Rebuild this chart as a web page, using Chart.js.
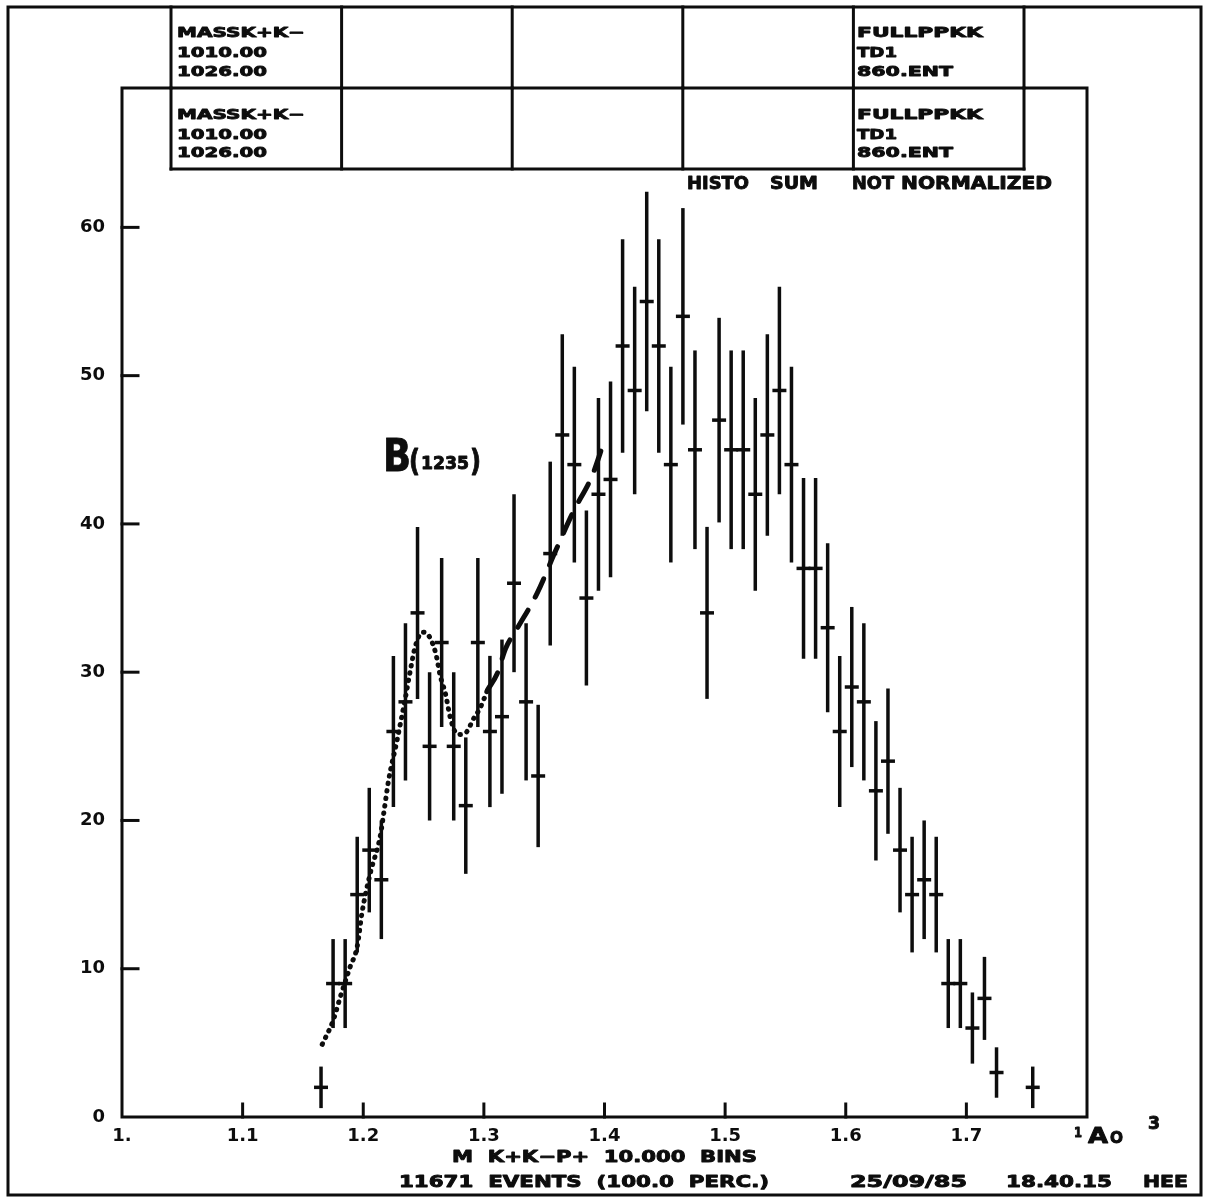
<!DOCTYPE html>
<html>
<head>
<meta charset="utf-8">
<title>M K+K-P+ 10.000 BINS</title>
<script src="https://cdn.jsdelivr.net/npm/chart.js@4.4.1/dist/chart.umd.min.js"></script>
<style>
  html, body { margin: 0; padding: 0; background: #fff; }
  canvas { display: block; }
</style>
</head>
<body>
<canvas id="histo" width="1208" height="1200"></canvas>
<script>
// bin centres of M(K+K-p+) in GeV (10 MeV bins)
const massBins = [
  1.165, 1.175, 1.185, 1.195, 1.205, 1.215, 1.225, 1.235, 1.245, 1.255,
  1.265, 1.275, 1.285, 1.295, 1.305, 1.315, 1.325, 1.335, 1.345, 1.355,
  1.365, 1.375, 1.385, 1.395, 1.405, 1.415, 1.425, 1.435, 1.445, 1.455,
  1.465, 1.475, 1.485, 1.495, 1.505, 1.515, 1.525, 1.535, 1.545, 1.555,
  1.565, 1.575, 1.585, 1.595, 1.605, 1.615, 1.625, 1.635, 1.645, 1.655,
  1.665, 1.675, 1.685, 1.695, 1.705, 1.715, 1.725, 1.755
];
// entries per bin
const counts = [
  2, 9, 9, 15, 18, 16, 26, 28, 34, 25,
  32, 25, 21, 32, 26, 27, 36, 28, 23, 38,
  46, 44, 35, 42, 43, 52, 49, 55, 52, 44,
  54, 45, 34, 47, 45, 45, 42, 46, 49, 44,
  37, 37, 33, 26, 29, 28, 22, 24, 18, 15,
  16, 15, 9, 9, 6, 8, 3, 2
];
// half length of each error bar
const errors = [
  1.4, 3.0, 3.0, 3.9, 4.2, 4.0, 5.1, 5.3, 5.8, 5.0,
  5.7, 5.0, 4.6, 5.7, 5.1, 5.2, 6.0, 5.3, 4.8, 6.2,
  6.8, 6.6, 5.9, 6.5, 6.6, 7.2, 7.0, 7.4, 7.2, 6.6,
  7.3, 6.7, 5.8, 6.9, 6.7, 6.7, 6.5, 6.8, 7.0, 6.6,
  6.1, 6.1, 5.7, 5.1, 5.4, 5.3, 4.7, 4.9, 4.2, 3.9,
  4.0, 3.9, 3.0, 3.0, 2.4, 2.8, 1.7, 1.4
];
// hand-drawn B(1235) curve: dotted part over the peak, dashed continuation
const dotMass = [
  1.166, 1.175, 1.181, 1.189, 1.195, 1.199, 1.206, 1.214, 1.217, 1.221,
  1.228, 1.235, 1.239, 1.243, 1.249, 1.254, 1.260, 1.264, 1.268, 1.272,
  1.276, 1.280, 1.286, 1.291, 1.297, 1.303
];
const dotCounts = [
  4.9, 6.5, 8.1, 10.1, 11.5, 13.8, 16.5, 18.9, 20.5, 22.7,
  25.4, 28.3, 30.1, 31.7, 32.7, 32.5, 31.3, 29.7, 28.6, 27.0,
  26.0, 25.8, 26.0, 26.8, 27.6, 28.8
];
const dashMass = [1.303, 1.311, 1.318, 1.328, 1.344, 1.359, 1.374, 1.390, 1.399];
const dashCounts = [28.8, 29.9, 31.6, 33.0, 35.3, 38.1, 40.8, 43.3, 45.4];

const yTicks = [10, 20, 30, 40, 50, 60];
const xTicks = [1.1, 1.2, 1.3, 1.4, 1.5, 1.6, 1.7];

const ink = '#0d0d0d';
const face = '"DejaVu Sans", sans-serif';

// plotter lettering is wide and heavy: stretch each string to its width
// and run a thin stroke over the fill
function plotText(ctx, text, x, y, size, width) {
  ctx.save();
  ctx.font = `bold ${size}px ${face}`;
  ctx.textBaseline = 'middle';
  ctx.textAlign = 'left';
  const w = ctx.measureText(text).width;
  ctx.translate(x, y);
  ctx.scale(width ? width / w : 1, 1);
  ctx.fillStyle = ink;
  ctx.strokeStyle = ink;
  ctx.lineWidth = 0.9;
  ctx.lineJoin = 'round';
  ctx.fillText(text, 0, 0);
  ctx.strokeText(text, 0, 0);
  ctx.restore();
}

function line(ctx, x1, y1, x2, y2) {
  ctx.beginPath();
  ctx.moveTo(x1, y1);
  ctx.lineTo(x2, y2);
  ctx.stroke();
}

const paper = {
  id: 'paper',
  beforeDraw(chart) {
    const ctx = chart.ctx;
    ctx.save();
    ctx.fillStyle = '#fff';
    ctx.fillRect(0, 0, chart.width, chart.height);
    ctx.restore();
  },
  afterDatasetsDraw(chart) {
    const ctx = chart.ctx;
    const xs = chart.scales.x, ys = chart.scales.y;
    ctx.save();
    ctx.strokeStyle = ink;
    ctx.lineWidth = 3.5;
    massBins.forEach((m, i) => {
      const px = xs.getPixelForValue(m);
      line(ctx, px, ys.getPixelForValue(counts[i] - errors[i]),
               px, ys.getPixelForValue(counts[i] + errors[i]));
    });
    ctx.restore();
  },
  afterDraw(chart) {
    const ctx = chart.ctx;
    const a = chart.chartArea;
    const xs = chart.scales.x, ys = chart.scales.y;
    ctx.save();
    ctx.strokeStyle = ink;
    ctx.lineWidth = 3;
    ctx.lineCap = 'square';

    // outer sheet border and plot frame
    ctx.strokeRect(8, 7, 1193, 1188);
    ctx.strokeRect(a.left, a.top, a.right - a.left, a.bottom - a.top);

    // inward tick marks
    yTicks.forEach(v => {
      const py = ys.getPixelForValue(v);
      line(ctx, a.left, py, a.left + 16, py);
    });
    xTicks.forEach(v => {
      const px = xs.getPixelForValue(v);
      line(ctx, px, a.bottom, px, a.bottom - 13);
    });

    // two rows of header boxes
    const cols = [171, 341.6, 512.2, 682.8, 853.4, 1024];
    cols.forEach(c => {
      line(ctx, c, 7, c, a.top);
      line(ctx, c, a.top, c, 169);
    });
    line(ctx, cols[0], 169, cols[5], 169);

    [[33, 53, 72], [115, 135, 153]].forEach(r => {
      plotText(ctx, 'MASSK+K\u2212', 177, r[0], 14, 128);
      plotText(ctx, '1010.00', 177, r[1], 14, 90);
      plotText(ctx, '1026.00', 177, r[2], 14, 90);
      plotText(ctx, 'FULLPPKK', 857, r[0], 14, 126);
      plotText(ctx, 'TD1', 857, r[1], 14, 40);
      plotText(ctx, '860.ENT', 857, r[2], 14, 96);
    });

    plotText(ctx, 'HISTO', 687, 185, 17, 62);
    plotText(ctx, 'SUM', 770, 185, 17, 48);
    plotText(ctx, 'NOT', 852, 185, 17, 42);
    plotText(ctx, 'NORMALIZED', 901, 185, 17, 151);

    // axis caption and run footer
    plotText(ctx, 'M  K+K\u2212P+  10.000  BINS', 452, 1158, 16, 305);
    plotText(ctx, '11671  EVENTS  (100.0  PERC.)', 399, 1183, 16, 370);
    plotText(ctx, '25/09/85', 850, 1183, 16, 117);
    plotText(ctx, '18.40.15', 1006, 1183, 16, 106);
    plotText(ctx, 'HEE', 1143, 1183, 16, 45);

    // end of the mass axis with the 10^3 scale factor
    plotText(ctx, '1', 1074, 1133, 14, 8);
    plotText(ctx, 'A', 1088, 1137, 22, 20);
    plotText(ctx, 'O', 1110, 1139, 15, 13);
    plotText(ctx, '3', 1148, 1125, 17, 12);

    // resonance label
    plotText(ctx, 'B', 383, 460, 44, 28);
    plotText(ctx, '(', 409, 463, 30, 11);
    plotText(ctx, '1235', 421, 465, 17, 48);
    plotText(ctx, ')', 470, 463, 30, 11);
    ctx.restore();
  }
};

const tickFont = { family: face, weight: 'bold', size: 18 };

new Chart(document.getElementById('histo'), {
  type: 'scatter',
  data: {
    datasets: [
      {
        label: 'entries',
        data: massBins.map((m, i) => ({ x: m, y: counts[i] })),
        pointStyle: 'line',
        pointRadius: 7,
        pointBorderWidth: 3.5,
        borderColor: ink,
        backgroundColor: ink,
        showLine: false
      },
      {
        label: 'B(1235) dotted',
        type: 'line',
        data: dotMass.map((m, i) => ({ x: m, y: dotCounts[i] })),
        borderColor: ink,
        borderWidth: 5,
        borderDash: [0.5, 7],
        borderCapStyle: 'round',
        cubicInterpolationMode: 'monotone',
        pointRadius: 0,
        fill: false
      },
      {
        label: 'B(1235) dashed',
        type: 'line',
        data: dashMass.map((m, i) => ({ x: m, y: dashCounts[i] })),
        borderColor: ink,
        borderWidth: 5,
        borderDash: [20, 15],
        borderCapStyle: 'round',
        cubicInterpolationMode: 'monotone',
        pointRadius: 0,
        fill: false
      }
    ]
  },
  options: {
    responsive: false,
    animation: false,
    events: [],
    layout: { padding: { left: 8, top: 88, right: 121, bottom: 0 } },
    plugins: { legend: { display: false }, tooltip: { enabled: false } },
    scales: {
      x: {
        type: 'linear',
        min: 1.0,
        max: 1.8,
        grid: { display: false, drawTicks: false },
        border: { display: false },
        ticks: {
          stepSize: 0.1,
          padding: 9,
          autoSkip: false,
          maxRotation: 0,
          color: ink,
          font: tickFont,
          callback: v => {
            const r = Math.round(v * 10) / 10;
            if (r === 1) return '1.';
            if (r >= 1.8) return null;
            return r.toFixed(1);
          }
        },
        afterFit: s => { s.height = 83; }
      },
      y: {
        min: 0,
        max: 69.4,
        grid: { display: false, drawTicks: false },
        border: { display: false },
        ticks: {
          stepSize: 10,
          padding: 17,
          color: ink,
          font: tickFont,
          callback: v => (v % 10 === 0 ? String(v) : null)
        },
        afterFit: s => { s.width = 114; }
      }
    }
  },
  plugins: [paper]
});
</script>
</body>
</html>
